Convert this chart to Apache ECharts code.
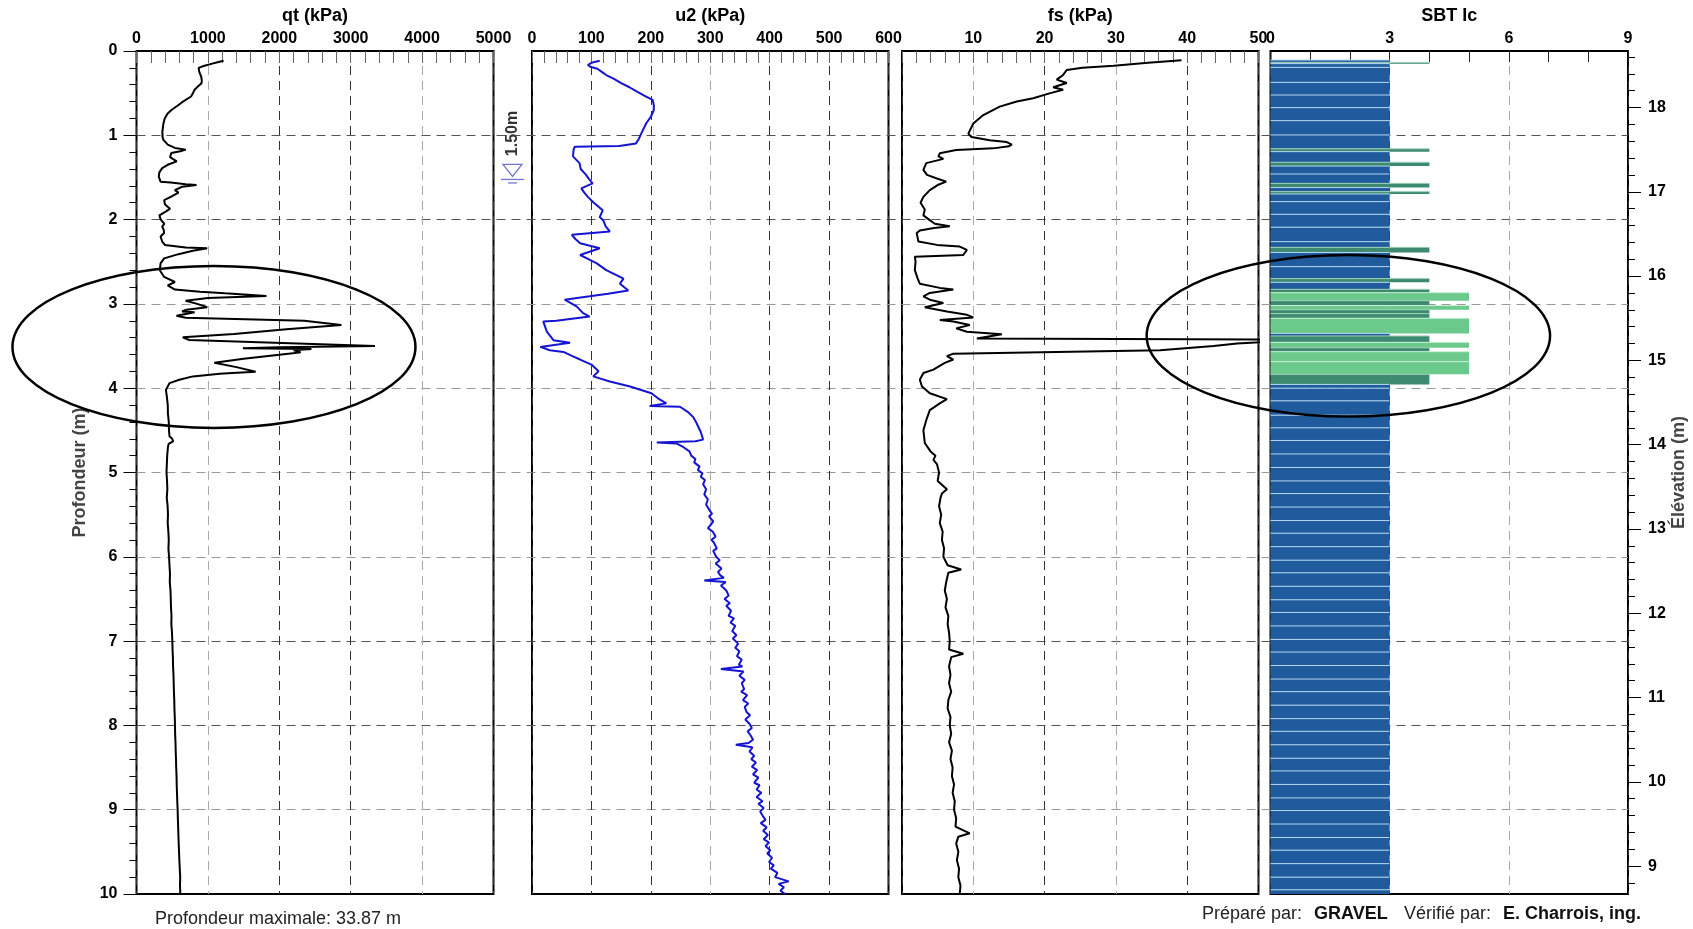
<!DOCTYPE html>
<html><head><meta charset="utf-8">
<script src="https://cdn.jsdelivr.net/npm/echarts@6/dist/echarts.min.js"></script>
<style>html,body{margin:0;padding:0;background:#fff}#c{width:1693px;height:929px}</style>
</head><body><div id="c"></div>
<script>
// ---------------- DATA ----------------
// qt (kPa) vs depth (m): [depth, value]
const qtData = [[0.115,1220],[0.13,1150],[0.15,1060],[0.178,940],[0.2,870],[0.25,880],[0.3,905],[0.35,915],[0.383,910],[0.42,860],[0.46,814],[0.5,790],[0.54,764],[0.6,650],[0.64,588],[0.7,490],[0.74,437],[0.8,395],[0.87,375],[0.96,362],[1.02,365],[1.055,377],[1.11,437],[1.15,538],[1.17,690],[1.19,613],[1.21,487],[1.26,470],[1.31,563],[1.35,437],[1.39,360],[1.44,320],[1.49,312],[1.55,337],[1.56,480],[1.58,690],[1.59,840],[1.61,638],[1.65,538],[1.68,588],[1.73,480],[1.77,387],[1.82,400],[1.87,470],[1.9,420],[1.95,320],[2.0,340],[2.05,390],[2.08,360],[2.12,380],[2.16,387],[2.2,337],[2.26,360],[2.3,397],[2.33,688],[2.34,990],[2.37,789],[2.41,588],[2.46,387],[2.52,337],[2.6,327],[2.68,387],[2.74,538],[2.78,437],[2.83,538],[2.855,889],[2.875,1241],[2.906,1820],[2.93,1000],[2.962,688],[3.0,850],[3.04,990],[3.07,700],[3.09,638],[3.1,814],[3.14,560],[3.164,690],[3.199,2350],[3.25,2870],[3.3,2100],[3.357,1367],[3.397,648],[3.428,740],[3.5,3340],[3.515,2000],[3.527,1490],[3.535,2450],[3.55,2200],[3.575,2300],[3.594,2095],[3.65,1500],[3.697,1090],[3.75,1400],[3.804,1668],[3.82,1342],[3.83,1166],[3.86,789],[3.9,600],[3.94,462],[4.02,412],[4.1,425],[4.2,438],[4.3,440],[4.4,452],[4.5,455],[4.57,462],[4.6,500],[4.63,513],[4.66,450],[4.7,440],[4.8,430],[4.9,425],[5.0,420],[5.1,428],[5.2,432],[5.3,424],[5.4,436],[5.5,441],[5.6,437],[5.7,446],[5.8,452],[5.9,447],[6.0,456],[6.1,462],[6.2,469],[6.3,466],[6.4,476],[6.5,480],[6.6,483],[6.7,490],[6.8,488],[6.9,497],[7.0,502],[7.1,505],[7.2,510],[7.3,512],[7.4,518],[7.5,521],[7.6,524],[7.7,529],[7.8,531],[7.9,536],[8.0,539],[8.1,541],[8.2,546],[8.3,549],[8.4,553],[8.5,556],[8.6,561],[8.7,563],[8.8,567],[8.9,571],[9.0,576],[9.1,579],[9.2,583],[9.3,587],[9.4,591],[9.5,596],[9.6,600],[9.7,606],[9.8,612],[9.9,609],[10.0,614]];

// u2 (kPa) vs depth (m)
const u2Data = [[0.115,114],[0.14,100],[0.166,94],[0.186,98],[0.21,110],[0.25,118],[0.285,125],[0.33,138],[0.38,150],[0.43,164],[0.48,176],[0.54,192],[0.58,203],[0.64,205],[0.70,205],[0.78,200],[0.86,192],[0.92,188],[0.977,184],[1.04,180],[1.096,175],[1.127,147],[1.135,72],[1.17,70],[1.25,69],[1.33,80],[1.40,82],[1.47,91],[1.52,96],[1.57,102],[1.63,83],[1.68,88],[1.73,94],[1.80,104],[1.89,119],[1.97,114],[2.01,120],[2.08,124],[2.14,131],[2.18,67],[2.23,73],[2.28,81],[2.34,114],[2.42,81],[2.47,95],[2.52,109],[2.60,125],[2.70,154],[2.76,148],[2.84,162],[2.88,128],[2.91,97],[2.95,55],[3.03,75],[3.11,86],[3.15,97],[3.2,41],[3.21,19],[3.27,22],[3.33,25],[3.43,36],[3.46,64],[3.51,14],[3.55,30],[3.57,53],[3.62,68],[3.66,81],[3.72,100],[3.80,112],[3.86,103],[3.92,131],[3.98,165],[4.06,201],[4.12,212],[4.18,226],[4.21,198],[4.22,249],[4.28,262],[4.34,271],[4.40,276],[4.46,280],[4.52,284],[4.61,288],[4.63,275],[4.645,210],[4.655,243],[4.70,255],[4.75,265],[4.8,268],[4.84,275],[4.88,273],[4.93,282],[4.97,279],[5.01,287],[5.05,284],[5.09,291],[5.14,288],[5.2,293],[5.26,290],[5.32,296],[5.38,293],[5.45,299],[5.49,303],[5.52,298],[5.58,305],[5.62,301],[5.66,296],[5.7,304],[5.76,309],[5.8,302],[5.83,306],[5.9,311],[5.93,305],[6.0,310],[6.04,316],[6.08,309],[6.14,319],[6.18,313],[6.22,317],[6.25,323],[6.28,290],[6.3,326],[6.34,318],[6.4,327],[6.46,331],[6.5,324],[6.55,333],[6.58,327],[6.64,335],[6.7,331],[6.73,340],[6.78,334],[6.82,342],[6.88,337],[6.93,344],[6.97,338],[7.03,347],[7.08,342],[7.12,349],[7.18,345],[7.22,353],[7.28,348],[7.3,354],[7.33,318],[7.36,356],[7.41,349],[7.46,358],[7.5,353],[7.57,357],[7.6,352],[7.64,362],[7.7,355],[7.74,364],[7.78,358],[7.84,361],[7.88,367],[7.93,359],[7.98,366],[8.03,370],[8.07,363],[8.12,368],[8.17,372],[8.21,364],[8.23,343],[8.26,371],[8.31,366],[8.36,374],[8.4,369],[8.44,377],[8.49,370],[8.53,379],[8.58,372],[8.62,381],[8.68,374],[8.71,383],[8.76,378],[8.8,386],[8.85,378],[8.9,388],[8.93,381],[8.98,390],[9.02,384],[9.07,388],[9.12,393],[9.16,385],[9.21,395],[9.25,389],[9.3,397],[9.35,390],[9.39,399],[9.43,393],[9.48,401],[9.52,396],[9.57,404],[9.62,399],[9.66,407],[9.7,402],[9.75,413],[9.8,409],[9.85,432],[9.88,415],[9.92,424],[9.96,418],[10.0,426]];

// fs (kPa) vs depth (m)
const fsData = [[0.11,39.2],[0.14,34.5],[0.175,29.7],[0.2,25.3],[0.225,23.1],[0.284,22.6],[0.34,21.7],[0.38,23.1],[0.43,21.2],[0.46,22.6],[0.50,20.8],[0.56,18.4],[0.60,16.1],[0.66,13.7],[0.76,11.4],[0.86,10.0],[0.98,9.3],[1.02,9.75],[1.06,12.3],[1.08,14.7],[1.11,15.4],[1.13,15.0],[1.155,12.8],[1.175,7.6],[1.214,5.3],[1.25,5.1],[1.28,5.8],[1.33,3.4],[1.41,3.0],[1.47,3.5],[1.51,4.8],[1.55,6.2],[1.59,5.0],[1.65,3.9],[1.73,3.0],[1.8,2.6],[1.88,3.2],[1.95,3.0],[2.0,3.8],[2.05,4.6],[2.08,6.7],[2.1,4.5],[2.13,2.5],[2.16,2.06],[2.26,2.3],[2.30,4.9],[2.32,8.1],[2.36,9.1],[2.42,8.6],[2.44,1.8],[2.5,1.9],[2.6,1.8],[2.7,2.2],[2.76,2.5],[2.81,5.3],[2.83,7.2],[2.87,3.9],[2.91,3.0],[2.95,3.9],[2.99,5.8],[3.04,3.2],[3.09,6.3],[3.13,9.1],[3.16,10.0],[3.19,5.3],[3.21,7.2],[3.25,9.5],[3.29,7.6],[3.33,9.1],[3.36,14.0],[3.41,10.5],[3.425,65],[3.445,52],[3.47,47],[3.50,43.7],[3.55,36.2],[3.59,7.2],[3.62,6.3],[3.66,7.2],[3.70,6.0],[3.78,4.4],[3.82,3.0],[3.90,2.5],[3.98,2.8],[4.06,3.9],[4.13,6.3],[4.18,5.3],[4.26,3.9],[4.38,3.4],[4.5,3.0],[4.65,3.2],[4.75,4.0],[4.8,4.7],[4.85,4.4],[4.9,4.9],[5.0,5.2],[5.1,5.0],[5.2,6.3],[5.25,5.6],[5.3,5.4],[5.4,5.2],[5.5,5.5],[5.6,5.3],[5.7,5.7],[5.8,5.6],[5.9,5.9],[6.0,5.8],[6.1,6.4],[6.15,8.3],[6.19,6.5],[6.3,6.2],[6.4,6.0],[6.5,6.3],[6.6,6.1],[6.7,6.5],[6.8,6.4],[6.9,6.6],[7.0,6.7],[7.1,6.6],[7.15,8.6],[7.19,6.9],[7.3,6.6],[7.4,6.8],[7.5,6.6],[7.6,6.9],[7.7,6.5],[7.8,6.4],[7.9,6.8],[8.0,6.7],[8.1,6.9],[8.2,6.6],[8.3,7.0],[8.4,6.8],[8.5,7.1],[8.6,7.0],[8.7,7.3],[8.8,7.1],[8.9,7.4],[9.0,7.3],[9.1,7.6],[9.2,7.5],[9.28,9.5],[9.32,7.9],[9.4,7.6],[9.5,7.9],[9.6,7.7],[9.7,8.0],[9.8,7.9],[9.9,8.2],[10.0,8.1]];

// SBT Ic layers: [top depth, bottom depth, Ic]
const sbtLayers = [[0.107,0.135,3],[0.135,0.15,4],[0.15,0.194,3],[0.194,0.372,3],[0.372,0.522,3],[0.522,0.672,3],[0.672,0.826,3],[0.826,0.996,3],[0.996,1.16,3],[1.16,1.194,4],[1.194,1.32,3],[1.32,1.365,4],[1.365,1.459,3],[1.459,1.57,3],[1.57,1.62,4],[1.62,1.668,3],[1.668,1.696,4],[1.696,1.787,3],[1.787,1.937,3],[1.937,2.09,3],[2.09,2.262,3],[2.262,2.329,3],[2.329,2.39,4],[2.39,2.558,3],[2.558,2.70,3],[2.70,2.744,4],[2.744,2.827,3],[2.827,2.867,4],[2.867,2.962,5],[2.962,3.02,4],[3.02,3.07,5],[3.07,3.115,4],[3.115,3.17,4],[3.17,3.35,5],[3.35,3.38,3],[3.38,3.456,4],[3.456,3.52,5],[3.52,3.567,4],[3.567,3.685,5],[3.685,3.835,5],[3.835,3.955,4],[3.955,4.0,3],[4.0,4.15,3],[4.15,4.32,3],[4.32,4.47,3],[4.47,4.62,3],[4.62,4.78,3],[4.78,4.94,3],[4.94,5.10,3],[5.10,5.25,3],[5.25,5.41,3],[5.41,5.57,3],[5.57,5.72,3],[5.72,5.88,3],[5.88,6.04,3],[6.04,6.19,3],[6.19,6.35,3],[6.35,6.51,3],[6.51,6.66,3],[6.66,6.82,3],[6.82,6.98,3],[6.98,7.13,3],[7.13,7.29,3],[7.29,7.45,3],[7.45,7.60,3],[7.60,7.76,3],[7.76,7.92,3],[7.92,8.07,3],[8.07,8.23,3],[8.23,8.39,3],[8.39,8.54,3],[8.54,8.70,3],[8.70,8.86,3],[8.86,9.01,3],[9.01,9.17,3],[9.17,9.33,3],[9.33,9.48,3],[9.48,9.64,3],[9.64,9.80,3],[9.80,9.95,3],[9.95,10.0,3]];

const elevTop = 18.67, elevBottom = 8.67;
const elevMajor = [9,10,11,12,13,14,15,16,17,18];
const waterDepth = 1.5;

// ---------------- STYLE ----------------
const FF = 'Liberation Sans, Arial, Helvetica, sans-serif';
const sbtFill = {3:'#1f5b9d', 4:'#3e8a70', 5:'#6bc98b'};
const sbtLine = {3:'#b3d7f2', 4:'#9fd0b8', 5:'#c9f0d6'};
const elevMinor = [];
for (let k = 0; k <= 50; k++) { const v = Math.round((8.8 + k*0.2)*10)/10; if (v < elevTop && Math.abs(v - Math.round(v)) > 1e-6) elevMinor.push(v); }

const TOP = 51, BOTTOM = 35;
const panels = [
  {left:136.5, width:357},
  {left:532, width:356.5},
  {left:902, width:356.5},
  {left:1270.5, width:357.5}
];
const plainNum = v => String(v);

function topAxis(grid, name, max, interval, minorSplit, splitColors, extra) {
  return Object.assign({
    gridIndex: grid, type:'value', position:'top', min:0, max:max, interval:interval,
    axisLine:{show:false},
    axisTick:{show:true, inside:true, length:12, lineStyle:{color:'#666', width:1}},
    minorTick:{show:true, splitNumber:minorSplit, length:12, lineStyle:{color:'#666', width:1}},
    splitLine:{show:true, showMinLine:true, showMaxLine:true, lineStyle:{type:[9,6], color:splitColors, width:1}},
    axisLabel:{fontFamily:FF, fontWeight:'bold', fontSize:16, color:'#000', margin:4, formatter:plainNum},
    name:name, nameLocation:'middle', nameGap:26,
    nameTextStyle:{fontFamily:FF, fontWeight:'bold', fontSize:18, color:'#000'}
  }, extra || {});
}
function hiddenDepth(grid) {
  return {gridIndex:grid, type:'value', inverse:true, min:0, max:10, show:false};
}

const chart = echarts.init(document.getElementById('c'), null, {renderer:'canvas'});
const option = {
  animation:false,
  backgroundColor:'#fff',
  grid:[
    {left:136.5, right:65, top:TOP, bottom:BOTTOM, show:false},
    ...panels.map(p => ({left:p.left, width:p.width, top:TOP, bottom:BOTTOM, show:true, borderColor:'#000', borderWidth:2, backgroundColor:'rgba(0,0,0,0)'}))
  ],
  xAxis:[
    {gridIndex:0, type:'value', min:0, max:1, show:false},
    topAxis(1, 'qt (kPa)', 5000, 1000, 5, ['#333','#aaa','#333','#333','#aaa','#333']),
    topAxis(2, 'u2 (kPa)', 600, 100, 5, ['#333','#333','#333','#aaa','#333','#333','#333']),
    topAxis(3, 'fs (kPa)', 50, 10, 5, ['#333','#aaa','#333','#aaa','#333','#333'], {axisLabel:{fontFamily:FF, fontWeight:'bold', fontSize:16, color:'#000', margin:4, showMinLabel:false, formatter:plainNum}}),
    topAxis(4, 'SBT Ic', 9, 3, 3, ['#333','#333','#aaa','#333'], {axisTick:{show:true, inside:true, length:11, lineStyle:{color:'#222', width:1}}, minorTick:{show:true, splitNumber:3, length:11, lineStyle:{color:'#222', width:1}}})
  ],
  yAxis:[
    {gridIndex:0, type:'value', inverse:true, min:0, max:10, interval:1, position:'left',
     axisLine:{show:false},
     axisTick:{show:true, length:13, lineStyle:{color:'#000', width:1}},
     minorTick:{show:true, splitNumber:5, length:7, lineStyle:{color:'#000', width:1}},
     splitLine:{show:true, showMinLine:false, showMaxLine:false, lineStyle:{type:[9,6], width:1, color:['#555','#555','#999','#999','#999','#999','#555','#555','#999']}},
     axisLabel:{fontFamily:FF, fontWeight:'bold', fontSize:16, color:'#000', margin:19},
     name:'Profondeur (m)', nameLocation:'middle', nameGap:38,
     nameTextStyle:{fontFamily:FF, fontWeight:'bold', fontSize:18, color:'#444'}},
    hiddenDepth(1), hiddenDepth(2), hiddenDepth(3), hiddenDepth(4),
    {gridIndex:4, type:'value', position:'right', min:elevBottom, max:elevTop,
     axisLine:{show:false},
     axisTick:{show:true, length:13, customValues:elevMajor, lineStyle:{color:'#000', width:1}},
     axisLabel:{customValues:elevMajor, fontFamily:FF, fontWeight:'bold', fontSize:16, color:'#000', margin:20},
     splitLine:{show:false},
     name:'Élévation (m)', nameLocation:'middle', nameGap:42,
     nameTextStyle:{fontFamily:FF, fontWeight:'bold', fontSize:18, color:'#444'}},
    {gridIndex:4, type:'value', position:'right', min:elevBottom, max:elevTop,
     axisLine:{show:false},
     axisTick:{show:true, length:7, customValues:elevMinor, lineStyle:{color:'#000', width:1}},
     axisLabel:{show:false}, splitLine:{show:false}}
  ],
  series:[
    {type:'line', name:'qt', xAxisIndex:1, yAxisIndex:1, data:qtData.map(r => [r[1], r[0]]),
     symbol:'none', clip:true, lineStyle:{color:'#000', width:2}, z:5},
    {type:'line', name:'u2', xAxisIndex:2, yAxisIndex:2, data:u2Data.map(r => [r[1], r[0]]),
     symbol:'none', clip:true, lineStyle:{color:'#1414d2', width:2}, z:5},
    {type:'line', name:'fs', xAxisIndex:3, yAxisIndex:3, data:fsData.map(r => [r[1], r[0]]),
     symbol:'none', clip:true, lineStyle:{color:'#000', width:2}, z:5},
    {type:'custom', name:'SBT Ic', xAxisIndex:4, yAxisIndex:4, data:sbtLayers,
     dimensions:['top','bottom','ic'], encode:{x:2, y:[0,1]}, clip:true, z:3,
     renderItem:function(params, api){
       const top = api.value(0), bot = api.value(1), ic = api.value(2);
       const a = api.coord([0, top]), b = api.coord([ic, bot]);
       return {type:'group', children:[
         {type:'rect', shape:{x:a[0], y:a[1], width:b[0]-a[0], height:b[1]-a[1]}, style:{fill:sbtFill[ic]}},
         {type:'line', shape:{x1:a[0], y1:a[1], x2:b[0], y2:a[1]}, style:{stroke:sbtLine[ic], lineWidth:1}}
       ]};
     }}
  ]
};
chart.setOption(option);

// annotations positioned through the axes
const wt = chart.convertToPixel({xAxisIndex:2, yAxisIndex:2}, [0, waterDepth]);
const wx = 513, wy = wt[1];
const e1 = chart.convertToPixel({xAxisIndex:1, yAxisIndex:1}, [1085, 3.51]);
const e2 = chart.convertToPixel({xAxisIndex:4, yAxisIndex:4}, [1.96, 3.378]);
const WC = '#7474d6';
chart.setOption({
  graphic:[
    {type:'ellipse', z:100, shape:{cx:e1[0], cy:e1[1], rx:201.5, ry:81}, style:{fill:null, stroke:'#000', lineWidth:2.5}},
    {type:'ellipse', z:100, shape:{cx:e2[0], cy:e2[1], rx:201.7, ry:80.8}, style:{fill:null, stroke:'#000', lineWidth:2.5}},
    {type:'polygon', z:100, shape:{points:[[wx-10, wy-13],[wx+9, wy-13],[wx-0.5, wy-1]]}, style:{fill:null, stroke:WC, lineWidth:1.3}},
    {type:'line', z:100, shape:{x1:wx-12, y1:wy+2, x2:wx+11, y2:wy+2}, style:{stroke:WC, lineWidth:1.3}},
    {type:'line', z:100, shape:{x1:wx-5, y1:wy+5.5, x2:wx+4, y2:wy+5.5}, style:{stroke:WC, lineWidth:1.3}},
    {type:'text', z:100, x:wx, y:wy-44, rotation:Math.PI/2,
     style:{text:'1.50m', font:'bold 16px ' + FF, fill:'#333', align:'center', verticalAlign:'middle'}},
    {type:'text', z:100, x:278, y:919,
     style:{text:'Profondeur maximale: 33.87 m', font:'18px ' + FF, fill:'#222', align:'center', verticalAlign:'middle'}},
    {type:'text', z:100, x:1202, y:914, style:{text:'Préparé par:', font:'18px ' + FF, fill:'#222', align:'left', verticalAlign:'middle'}},
    {type:'text', z:100, x:1314, y:914, style:{text:'GRAVEL', font:'bold 18px ' + FF, fill:'#111', align:'left', verticalAlign:'middle'}},
    {type:'text', z:100, x:1404, y:914, style:{text:'Vérifié par:', font:'18px ' + FF, fill:'#222', align:'left', verticalAlign:'middle'}},
    {type:'text', z:100, x:1503, y:914, style:{text:'E. Charrois, ing.', font:'bold 18px ' + FF, fill:'#111', align:'left', verticalAlign:'middle'}}
  ]
});
</script></body></html>
